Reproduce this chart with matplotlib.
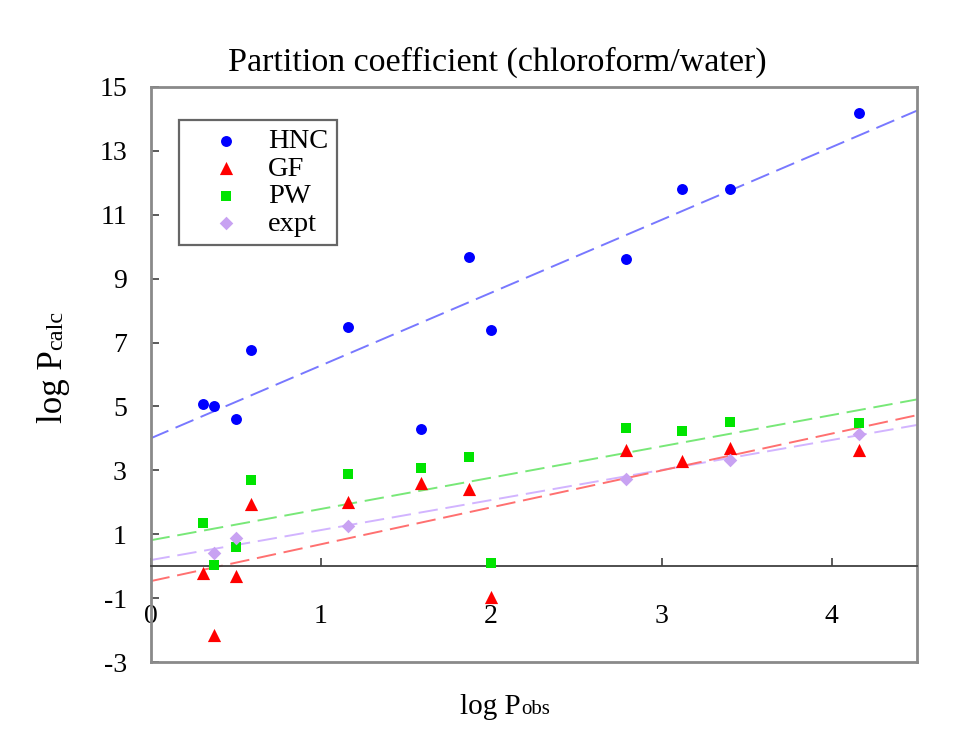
import numpy as np
import matplotlib
matplotlib.use("Agg")
import matplotlib.pyplot as plt

# ---------------- data ----------------
log_p_obs = [0.31, 0.37, 0.50, 0.59, 1.16, 1.59, 1.87, 2.00, 2.79, 3.12, 3.40, 4.16]
hnc = [5.07, 5.01, 4.60, 6.78, 7.49, 4.29, 9.68, 7.39, 9.61, 11.80, 11.80, 14.20]
gf = [-0.20, -2.17, -0.32, 1.94, 2.01, 2.60, 2.41, -0.98, 3.64, 3.30, 3.69, 3.63]
pw = [1.36, 0.03, 0.60, 2.69, 2.87, 3.06, 3.42, 0.10, 4.33, 4.23, 4.52, 4.47]
expt_x = [0.37, 0.50, 1.16, 2.79, 3.40, 4.16]
expt_y = [0.40, 0.87, 1.26, 2.72, 3.32, 4.15]

series_names = ["HNC", "GF", "PW", "expt"]
# fitted trend lines (intercept, slope)
fit_hnc = (4.00, 2.28)
fit_gf = (-0.47, 1.155)
fit_pw = (0.81, 0.98)
fit_expt = (0.19, 0.94)

x_ticks = [0, 1, 2, 3, 4]
y_ticks = [-3, -1, 1, 3, 5, 7, 9, 11, 13, 15]

# ---------------- style ----------------
FONT = "Liberation Serif"
plt.rcParams["font.family"] = [FONT, "DejaVu Serif"]

W, H = 969, 744
fig = plt.figure(figsize=(W / 100, H / 100), dpi=100)
L, R, T, B = 150.5, 917, 87, 662
ax = fig.add_axes([L / W, (H - B) / H, (R - L) / W, (B - T) / H])
ax.set_xlim(0, 4.5)
ax.set_ylim(-3, 15)

spine_col = "#8a8a8a"
for s in ["left", "top", "right"]:
    ax.spines[s].set_color(spine_col)
    ax.spines[s].set_linewidth(2.0)
ax.spines["bottom"].set_position(("data", 0))
ax.spines["bottom"].set_color("#404040")
ax.spines["bottom"].set_linewidth(1.3)
# bottom frame edge
ax.plot([0, 1], [0, 0], transform=ax.transAxes, color=spine_col, lw=2.0,
        clip_on=False, solid_capstyle="projecting")

ax.set_xticks(x_ticks)
ax.set_yticks(y_ticks)
ax.set_xticklabels([str(v) for v in x_ticks])
ax.set_yticklabels([str(v) for v in y_ticks])
ax.tick_params(axis="x", direction="in", length=6, width=1.2, color="#404040",
               labelsize=20, pad=27)
ax.tick_params(axis="y", direction="in", length=6, width=1.2, color="#404040",
               labelsize=20, pad=17)
for lab in ax.get_xticklabels() + ax.get_yticklabels():
    lab.set_fontfamily(FONT)

# trend lines
xs = np.array(ax.get_xlim())
line_kw = dict(lw=1.4, zorder=2)
ax.plot(xs, fit_hnc[0] + fit_hnc[1] * xs, color="#7878ff", dashes=(10, 4), **line_kw)
ax.plot(xs, fit_pw[0] + fit_pw[1] * xs, color="#78e878", dashes=(10, 4), **line_kw)
ax.plot(xs, fit_expt[0] + fit_expt[1] * xs, color="#d2b4ff", dashes=(10, 4), **line_kw)
ax.plot(xs, fit_gf[0] + fit_gf[1] * xs, color="#ff7070", dashes=(10, 4), **line_kw)

# markers
ax.scatter(log_p_obs, hnc, marker="o", s=62, color="#0000ff", lw=0, zorder=4, label=series_names[0])
ax.scatter(log_p_obs, gf, marker="^", s=90, color="#ff0000", lw=0, zorder=4, label=series_names[1])
ax.scatter(log_p_obs, pw, marker="s", s=62, color="#00e400", lw=0, zorder=4, label=series_names[2])
ax.scatter(expt_x, expt_y, marker="D", s=48, color="#c8a2f2", lw=0, zorder=5, label=series_names[3])

leg = ax.legend(loc="upper left", bbox_to_anchor=((179 - L) / (R - L), (B - 120) / (B - T)),
                frameon=True, fancybox=False, shadow=False, fontsize=20.5,
                handletextpad=0.12, borderpad=0.3, labelspacing=0.05,
                handlelength=2.7, borderaxespad=0, scatterpoints=1)
leg.get_frame().set_edgecolor("#404040")
leg.get_frame().set_linewidth(1.6)
for t in leg.get_texts():
    t.set_fontfamily(FONT)

# title
fig.text(497 / W, 1 - 62 / H, "Partition coefficient (chloroform/water)",
         ha="center", va="center", fontsize=24.5, family=FONT)

# x label: "log P" + smaller "obs" on same baseline
xb = 1 - 714 / H
fig.text(521 / W, xb, "log P", ha="right", va="baseline", fontsize=21, family=FONT)
fig.text(521 / W, xb, "obs", ha="left", va="baseline", fontsize=15, family=FONT)

# y label (rotated)
yx = 62 / W
yy = 1 - 350 / H
fig.text(yx, yy, "log P", ha="right", va="baseline", rotation=90,
         rotation_mode="anchor", fontsize=25, family=FONT)
fig.text(yx, yy, "calc", ha="left", va="baseline", rotation=90,
         rotation_mode="anchor", fontsize=17.5, family=FONT)

fig.savefig("out.png", dpi=100, facecolor="white")
